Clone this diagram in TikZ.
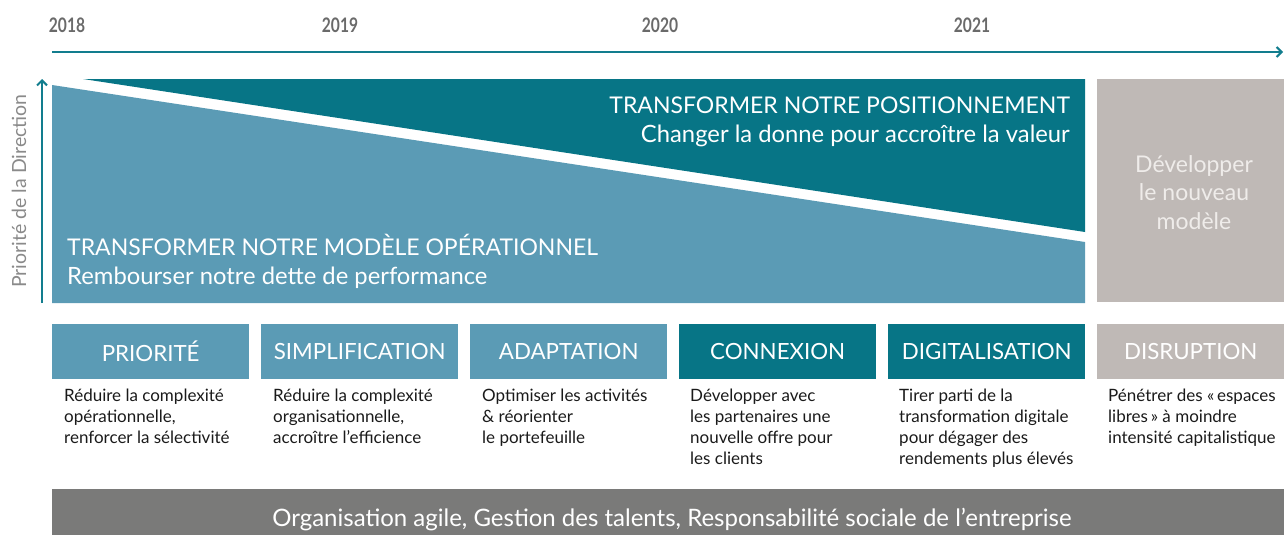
\documentclass[tikz,border=0pt]{standalone}
\usepackage{fontspec}
\setmainfont{Lato}
\newfontfamily\yearfont[FakeStretch=0.78]{Lato}
\usetikzlibrary{arrows.meta}
\definecolor{lightb}{HTML}{5B9BB5}
\definecolor{darkt}{HTML}{077586}
\definecolor{greyb}{HTML}{BFB9B6}
\definecolor{barg}{HTML}{7A7A79}
\definecolor{yeartxt}{HTML}{6A6A6A}
\definecolor{axisc}{HTML}{127D8E}
\definecolor{vlabel}{HTML}{8A8A8A}
\definecolor{devtxt}{HTML}{EFECEA}
\definecolor{desctxt}{HTML}{1A1A1A}
\tikzset{
  yearlbl/.style={anchor=base, inner sep=0, text=yeartxt, font=\yearfont\bfseries\fontsize{20}{20}\selectfont},
  bigtitle/.style={inner sep=0, text=white, font=\fontsize{23}{23}\selectfont},
  subtitle/.style={inner sep=0, text=white, font=\fontsize{23.8}{24}\selectfont},
  hdrbox/.style={anchor=north west, minimum width=197, minimum height=55, inner sep=0, text=white, font=\fontsize{22.3}{22}\selectfont},
  desc/.style={anchor=north west, inner sep=0, align=left, text=desctxt, font=\fontsize{17}{21}\selectfont},
  axisarrow/.style={draw=axisc, line width=2.6pt, -{Straight Barb[length=5pt,width=10pt,line width=2pt]}},
}
\begin{document}
\begin{tikzpicture}[x=1pt,y=-1pt]
\useasboundingbox (0,0) rectangle (1284,535);
% timeline
\coordinate (tl0) at (52,52);
\coordinate (tl1) at (1283,52);
\draw[axisarrow] (tl0) -- (tl1);
\node[yearlbl] (y18) at (67,33) {2018};
\node[yearlbl] (y19) at (340,33) {2019};
\node[yearlbl] (y20) at (660,33) {2020};
\node[yearlbl] (y21) at (972,33) {2021};
% vertical priority arrow
\coordinate (va0) at (42,303);
\coordinate (va1) at (42,79);
\draw[axisarrow] (va0) -- (va1);
\node[rotate=90, inner sep=0, text=vlabel, font=\fontsize{19.5}{20}\selectfont] (vlab) at (19,191) {Priorité de la Direction};
% wedges
\fill[lightb] (52,85) -- (1085,242) -- (1085,303) -- (52,303) -- cycle;
\fill[darkt] (83,79) -- (1085,79) -- (1085,232) -- cycle;
\node[bigtitle, anchor=base east] (t1) at (1070,113) {TRANSFORMER NOTRE POSITIONNEMENT};
\node[subtitle, anchor=base east] (t2) at (1070,142) {Changer la donne pour accroître la valeur};
\node[bigtitle, anchor=base west] (o1) at (67,255) {TRANSFORMER NOTRE MODÈLE OPÉRATIONNEL};
\node[subtitle, anchor=base west] (o2) at (67,284) {Rembourser notre dette de performance};
% grey box
\node[anchor=north west, fill=greyb, minimum width=187, minimum height=223, inner sep=0] (dev) at (1097,79) {};
\node[anchor=base, inner sep=0, text=devtxt, font=\fontsize{23}{23}\selectfont] (d1) at (1194,172) {Développer};
\node[anchor=base, inner sep=0, text=devtxt, font=\fontsize{23}{23}\selectfont] (d2) at (1194,200) {le nouveau};
\node[anchor=base, inner sep=0, text=devtxt, font=\fontsize{23}{23}\selectfont] (d3) at (1194,229) {modèle};
% header boxes
\node[hdrbox, fill=lightb] (h1) at (52,324) {PRIORITÉ};
\node[hdrbox, fill=lightb] (h2) at (261,324) {SIMPLIFICATION};
\node[hdrbox, fill=lightb] (h3) at (470,324) {ADAPTATION};
\node[hdrbox, fill=darkt] (h4) at (679,324) {CONNEXION};
\node[hdrbox, fill=darkt] (h5) at (888,324) {DIGITALISATION};
\node[hdrbox, fill=greyb, minimum width=187] (h6) at (1097,324) {DISRUPTION};
% descriptions
\node[desc] (s1) at (64,389) {Réduire la complexité\\opérationnelle,\\renforcer la sélectivité};
\node[desc] (s2) at (273,389) {Réduire la complexité\\organisationnelle,\\accroître l’efficience};
\node[desc] (s3) at (482,389) {Optimiser les activités\\\& réorienter\\le portefeuille};
\node[desc] (s4) at (690,389) {Développer avec\\les partenaires une\\nouvelle offre pour\\les clients};
\node[desc] (s5) at (899,389) {Tirer parti de la\\transformation digitale\\pour dégager des\\rendements plus élevés};
\node[desc] (s6) at (1108,389) {Pénétrer des «\,espaces\\libres\,» à moindre\\intensité capitalistique};
% bottom bar
\node[anchor=north west, fill=barg, minimum width=1232, minimum height=46, inner sep=0] (bar) at (52,489) {};
\node[anchor=base, inner sep=0, text=white, font=\fontsize{24}{24}\selectfont] (bart) at (672,526) {Organisation agile, Gestion des talents, Responsabilité sociale de l’entreprise};
\end{tikzpicture}
\end{document}
